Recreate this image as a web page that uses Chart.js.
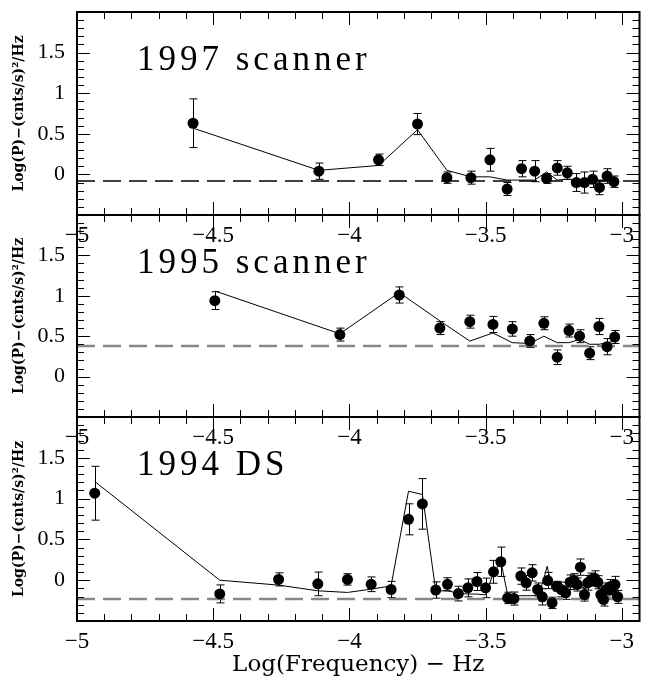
<!DOCTYPE html>
<html>
<head>
<meta charset="utf-8">
<script src="https://cdn.jsdelivr.net/npm/chart.js@4.4.1/dist/chart.umd.min.js"></script>
<style>
  html, body { margin: 0; padding: 0; background: #fff; }
  #wrap { position: relative; width: 645px; height: 683px; overflow: hidden; }
  #wrap canvas { position: absolute; left: 0; }
</style>
</head>
<body>
<div id="wrap">
  <canvas id="c97" width="645" height="260" style="top:2px"></canvas>
  <canvas id="c95" width="645" height="260" style="top:205px"></canvas>
  <canvas id="c94" width="645" height="276" style="top:407px"></canvas>
</div>
<script>
// ---- 1997 scanner ----
const x97 = [-4.574, -4.112, -3.893, -3.750, -3.642, -3.554, -3.484, -3.421, -3.368, -3.320, -3.276, -3.237, -3.200, -3.167, -3.137, -3.107, -3.082, -3.054, -3.029];
const y97 = [0.63, 0.04, 0.18, 0.62, -0.04, -0.04, 0.18, -0.18, 0.07, 0.04, -0.05, 0.08, 0.02, -0.10, -0.10, -0.06, -0.16, -0.02, -0.09];
const e97 = [0.30, 0.10, 0.07, 0.13, 0.07, 0.08, 0.14, 0.08, 0.10, 0.13, 0.06, 0.09, 0.08, 0.11, 0.13, 0.10, 0.09, 0.09, 0.07];
const model97 = [0.57, 0.05, 0.11, 0.55, 0.05, -0.03, -0.03, -0.07, -0.07, -0.07, 0.03, -0.07, -0.06, -0.07, -0.07, -0.075, -0.08, -0.08, -0.08];
const level97 = -0.08;

// ---- 1995 scanner ----
const x95 = [-4.494, -4.035, -3.817, -3.668, -3.558, -3.473, -3.402, -3.338, -3.286, -3.237, -3.194, -3.155, -3.118, -3.084, -3.054, -3.026];
const y95 = [0.94, 0.52, 1.01, 0.60, 0.68, 0.645, 0.59, 0.44, 0.66, 0.24, 0.57, 0.50, 0.29, 0.62, 0.37, 0.49];
const e95 = [0.11, 0.08, 0.10, 0.08, 0.08, 0.10, 0.09, 0.08, 0.08, 0.09, 0.08, 0.08, 0.08, 0.10, 0.10, 0.08];
const model95 = [1.06, 0.53, 1.04, 0.69, 0.44, 0.54, 0.42, 0.41, 0.50, 0.42, 0.42, 0.46, 0.40, 0.40, 0.42, 0.44];
const level95 = 0.38;

// ---- 1994 DS ----
const x94 = [-4.935, -4.476, -4.26, -4.116, -4.007, -3.92, -3.847, -3.783, -3.732, -3.683, -3.64, -3.60, -3.565, -3.532, -3.50,
  -3.471, -3.444, -3.419, -3.396, -3.371, -3.351, -3.329, -3.309, -3.292, -3.272, -3.256, -3.239, -3.222, -3.206, -3.19,
  -3.176, -3.164, -3.152, -3.137, -3.125, -3.112, -3.10, -3.088, -3.077, -3.067, -3.057, -3.045, -3.036, -3.025, -3.015];
const y94 = [1.066, -0.168, 0.01, -0.045, 0.01, -0.05, -0.114, 0.746, 0.935, -0.12, -0.05, -0.164, -0.094, -0.016, -0.094,
  0.103, 0.226, -0.217, -0.225, 0.05, -0.032, 0.09, -0.114, -0.204, -0.004, -0.278, -0.074, -0.114, -0.155, -0.025,
  0.0, -0.053, 0.16, -0.176, -0.032, 0.008, 0.025, -0.025, -0.176, -0.237, -0.114, -0.082, -0.12, -0.053, -0.204];
const e94 = [0.33, 0.11, 0.08, 0.145, 0.07, 0.09, 0.10, 0.19, 0.31, 0.10, 0.08, 0.09, 0.11, 0.11, 0.12,
  0.14, 0.18, 0.07, 0.08, 0.10, 0.09, 0.10, 0.08, 0.10, 0.10, 0.07, 0.06, 0.09, 0.08, 0.09,
  0.08, 0.08, 0.10, 0.08, 0.09, 0.08, 0.09, 0.08, 0.08, 0.08, 0.08, 0.09, 0.10, 0.10, 0.08];
const modelX94 = [-4.935, -4.476, -4.26, -4.116, -4.007, -3.92, -3.847, -3.783, -3.732, -3.683, -3.64, -3.60, -3.565, -3.532, -3.50,
  -3.471, -3.444, -3.419, -3.396, -3.371, -3.351, -3.329, -3.309, -3.292, -3.274, -3.256, -3.239, -3.222, -3.206, -3.19,
  -3.176, -3.164, -3.152, -3.137, -3.125, -3.112, -3.10, -3.088, -3.077, -3.067, -3.057, -3.045, -3.036, -3.025];
const modelY94 = [1.21, 0.0, -0.06, -0.13, -0.15, -0.11, -0.07, 1.09, 1.05, -0.13, -0.13, -0.16, -0.17, -0.17, -0.18,
  0.09, 0.23, -0.18, -0.19, -0.19, -0.19, -0.19, -0.18, -0.05, 0.17, -0.10, -0.08, -0.12, -0.12, -0.06,
  -0.04, -0.07, 0.0, -0.12, -0.06, -0.05, -0.06, -0.07, -0.12, -0.18, -0.12, -0.10, -0.12, -0.10];
const level94 = -0.23;

const xMin = -5, xMax = -2.935, yMin = -0.5, yMax = 2;
const serif = "'Liberation Serif', 'Times New Roman', serif";
const wideSerif = "'DejaVu Serif', serif";

function fmt(v) {
  const s = String(Math.abs(Math.round(v * 10) / 10));
  return (v < 0 ? '\u2212' : '') + s;
}

// error bars under the points, frame + inward ticks + panel label on top
const framePlugin = {
  id: 'frame',
  beforeDatasetsDraw(chart, args, opts) {
    const { ctx, scales: { x, y } } = chart;
    const pts = chart.data.datasets[0].data;
    ctx.save();
    ctx.strokeStyle = '#000';
    ctx.lineWidth = 1;
    pts.forEach((p, i) => {
      const e = opts.err[i];
      const px = Math.round(x.getPixelForValue(p.x)) + 0.5;
      const t = y.getPixelForValue(p.y + e), b = y.getPixelForValue(p.y - e);
      ctx.beginPath();
      ctx.moveTo(px, t); ctx.lineTo(px, b);
      ctx.moveTo(px - 4, t); ctx.lineTo(px + 4, t);
      ctx.moveTo(px - 4, b); ctx.lineTo(px + 4, b);
      ctx.stroke();
    });
    ctx.restore();
  },
  afterDraw(chart, args, opts) {
    const { ctx, chartArea: a, scales: { x, y } } = chart;
    ctx.save();
    ctx.strokeStyle = '#000';
    ctx.lineWidth = 1;
    ctx.beginPath();
    for (let k = -50; k <= -30; k++) {
      const px = Math.round(x.getPixelForValue(k / 10)) + 0.5;
      const len = k % 5 === 0 ? 13 : 7;
      ctx.moveTo(px, a.top); ctx.lineTo(px, a.top + len);
      ctx.moveTo(px, a.bottom); ctx.lineTo(px, a.bottom - len);
    }
    for (let k = -5; k <= 19; k++) {
      const py = Math.round(y.getPixelForValue(k / 10)) + 0.5;
      const len = k % 5 === 0 ? 13 : 7;
      ctx.moveTo(a.left, py); ctx.lineTo(a.left + len, py);
      ctx.moveTo(a.right, py); ctx.lineTo(a.right - len, py);
    }
    ctx.stroke();
    ctx.lineWidth = 2;
    ctx.strokeRect(a.left, a.top, a.right - a.left, a.bottom - a.top);
    ctx.fillStyle = '#000';
    ctx.font = '35px ' + serif;
    ctx.letterSpacing = '4px';
    ctx.textBaseline = 'alphabetic';
    ctx.fillText(opts.label, 137, a.top + 58);
    ctx.restore();
  }
};

function makePanel(id, xs, ys, err, mx, my, level, dashColor, dashWidth, label, axisH, showTitle) {
  const pts = xs.map((v, i) => ({ x: v, y: ys[i] }));
  const model = mx.map((v, i) => ({ x: v, y: my[i] }));
  return new Chart(document.getElementById(id), {
    type: 'scatter',
    data: {
      datasets: [
        { data: pts, pointRadius: 5.5, pointHoverRadius: 5.5, pointBackgroundColor: '#000', pointBorderWidth: 0 },
        { type: 'line', data: model, borderColor: '#000', borderWidth: 1, pointRadius: 0, tension: 0, fill: false },
        { type: 'line', data: [{ x: xMin, y: level }, { x: xMax, y: level }], borderColor: dashColor,
          borderWidth: dashWidth, borderDash: [18, 8], pointRadius: 0, fill: false }
      ]
    },
    options: {
      responsive: false,
      animation: false,
      layout: { padding: { top: 10, right: 4, left: 0, bottom: 0 } },
      plugins: {
        legend: { display: false },
        tooltip: { enabled: false },
        frame: { err: err, label: label }
      },
      scales: {
        x: {
          type: 'linear', min: xMin, max: xMax,
          grid: { display: false, drawTicks: false },
          border: { display: false },
          ticks: {
            stepSize: 0.5, padding: 7, maxRotation: 0, autoSkip: false, includeBounds: false,
            color: '#000', font: { family: serif, size: 23 },
            callback: v => Math.abs(v * 2 - Math.round(v * 2)) < 1e-6 ? fmt(v) : null
          },
          title: {
            display: showTitle, text: 'Log(Frequency) \u2212 Hz', color: '#000',
            font: { family: wideSerif, size: 23 }, padding: { top: 5 }
          },
          afterFit: s => { s.height = axisH; s.paddingLeft = 0; s.paddingRight = 0; }
        },
        y: {
          type: 'linear', min: yMin, max: yMax,
          grid: { display: false, drawTicks: false },
          border: { display: false },
          ticks: {
            stepSize: 0.5, padding: 12, color: '#000', font: { family: serif, size: 22 },
            callback: v => (v < -0.01 || v > 1.99) ? null : fmt(v)
          },
          title: {
            display: true, text: 'Log(P)\u2212(cnts/s)\u00b2/Hz', color: '#000',
            font: { family: wideSerif, size: 14, weight: 'bold' }, padding: { top: 11, bottom: 0 }
          },
          afterFit: s => { s.width = 77; s.paddingTop = 0; s.paddingBottom = 0; }
        }
      }
    },
    plugins: [framePlugin]
  });
}

makePanel('c97', x97, y97, e97, x97, model97, level97, '#000', 1.5, '1997 scanner', 47, false);
makePanel('c95', x95, y95, e95, x95, model95, level95, '#888', 2.5, '1995 scanner', 48, false);
makePanel('c94', x94, y94, e94, modelX94, modelY94, level94, '#888', 2.5, '1994 DS', 62, true);
</script>
</body>
</html>
